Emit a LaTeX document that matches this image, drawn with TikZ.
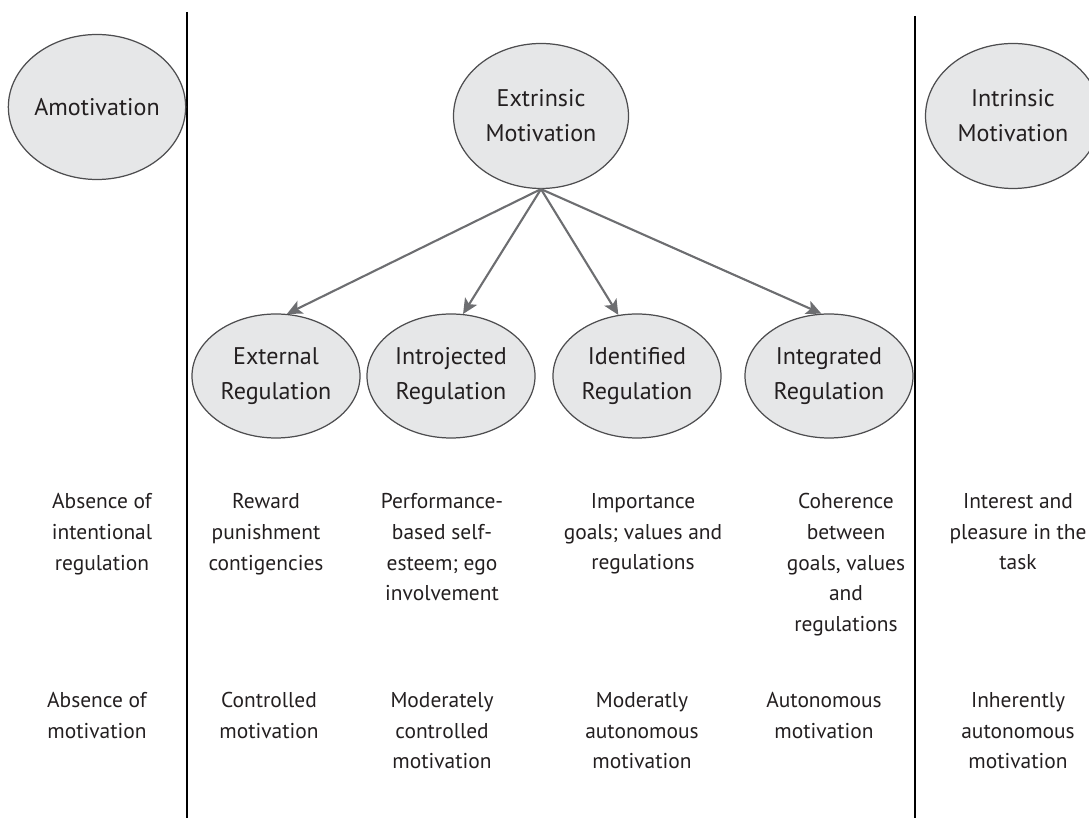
\documentclass[tikz,border=0pt]{standalone}
\usepackage{fontspec}
\setmainfont{PT Sans}
\usepackage{xcolor}
\usetikzlibrary{shapes.geometric,arrows.meta}

\definecolor{ovalfill}{HTML}{E6E7E8}
\definecolor{ovalline}{HTML}{4D4D4F}
\definecolor{arrowgray}{HTML}{6D6E71}
\definecolor{inkblack}{HTML}{231F20}

\begin{document}
\begin{tikzpicture}[
    oval/.style={ellipse, draw=ovalline, fill=ovalfill, line width=0.35pt, inner sep=0pt,
        align=center, text=inkblack, font=\fontsize{6.85}{9.9}\selectfont},
    bigoval/.style={oval, minimum width=1.75cm, minimum height=1.45cm},
    smalloval/.style={oval, minimum width=1.68cm, minimum height=1.24cm},
    lead/.style={draw=arrowgray, line width=0.6pt, -{Stealth[length=4.3pt,width=4pt,inset=1pt]}},
    divider/.style={draw=black, line width=0.45pt},
    cell/.style={anchor=north, inner sep=0pt, align=center, text=inkblack,
        font=\fontsize{6.1}{8.7}\selectfont}
]
    \useasboundingbox (0,0) rectangle (10.89,-8.18);

    % Column dividers
    \coordinate (LT) at (1.87,-0.12);
    \coordinate (LB) at (1.87,-8.18);
    \coordinate (RT) at (9.15,-0.16);
    \coordinate (RB) at (9.15,-8.18);
    \draw [divider] (LT) -- (LB);
    \draw [divider] (RT) -- (RB);

    % Types of motivation
    \node [bigoval] (amot) at (0.97,-1.07) {Amotivation};
    \node [bigoval] (extr) at (5.41,-1.16) {Extrinsic\\Motivation};
    \node [bigoval] (intr) at (10.13,-1.16) {Intrinsic\\Motivation};

    % Types of regulation
    \node [smalloval] (ext) at (2.76,-3.76) {External\\Regulation};
    \node [smalloval] (intro) at (4.51,-3.76) {Introjected\\Regulation};
    \node [smalloval] (ident) at (6.37,-3.76) {Identified\\Regulation};
    \node [smalloval] (integ) at (8.29,-3.76) {Integrated\\Regulation};

    % Arrows from extrinsic motivation
    \draw [lead] (extr.south) -- (ext.80);
    \draw [lead] (extr.south) -- (intro.79);
    \draw [lead] (extr.south) -- (ident.107);
    \draw [lead] (extr.south) -- (integ.97);

    % Regulatory processes
    \node [cell] (amotreg) at (1.02,-4.93) {Absence of\\intentional\\regulation};
    \node [cell] (extreg) at (2.66,-4.93) {Reward\\punishment\\contigencies};
    \node [cell] (introreg) at (4.42,-4.93) {Performance-\\based self-\\esteem; ego\\involvement};
    \node [cell] (identreg) at (6.43,-4.93) {Importance\\goals; values and\\regulations};
    \node [cell] (integreg) at (8.46,-4.93) {Coherence\\between\\goals, values\\and\\regulations};
    \node [cell] (intrreg) at (10.18,-4.93) {Interest and\\pleasure in the\\task};

    % Perceived locus of causality
    \node [cell] (amotmot) at (0.97,-6.92) {Absence of\\motivation};
    \node [cell] (extmot) at (2.69,-6.92) {Controlled\\motivation};
    \node [cell] (intromot) at (4.42,-6.92) {Moderately\\controlled\\motivation};
    \node [cell] (identmot) at (6.42,-6.92) {Moderatly\\autonomous\\motivation};
    \node [cell] (integmot) at (8.24,-6.92) {Autonomous\\motivation};
    \node [cell] (intrmot) at (10.18,-6.92) {Inherently\\autonomous\\motivation};
\end{tikzpicture}
\end{document}
